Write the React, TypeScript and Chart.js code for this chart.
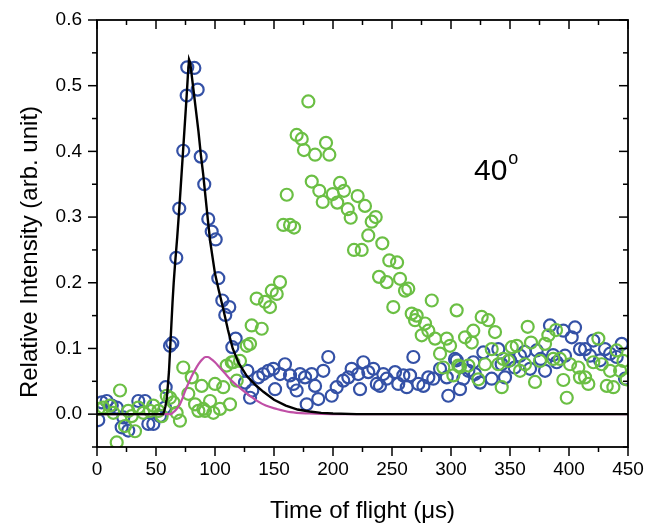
import React, { useEffect, useRef } from 'react';
import { Chart, registerables } from 'chart.js';
Chart.register(...registerables);

// ---- data ----
const blueX = [1.1, 4.0, 8.2, 12.5, 16.7, 20.9, 22.3, 26.5, 35.0, 40.7, 43.5, 47.7, 53.4, 57.6, 58.2, 61.9, 63.8, 67.2, 69.7, 73.1, 76.0, 76.5, 82.5, 85.3, 87.9, 90.9, 94.3, 97.2, 100.6, 102.8, 106.2, 108.7, 112.1, 114.7, 117.5, 125.4, 127.4, 129.7, 131.6, 136.7, 140.9, 145.2, 149.4, 150.9, 155.1, 159.3, 163.6, 166.4, 169.2, 172.1, 176.3, 177.7, 181.9, 184.8, 187.5, 191.8, 196.0, 198.9, 203.1, 208.7, 213.0, 215.8, 221.4, 222.9, 225.7, 229.9, 234.2, 237.1, 239.8, 242.6, 245.5, 252.6, 255.3, 259.6, 262.5, 265.3, 268.1, 272.3, 276.6, 280.8, 285.0, 290.7, 296.4, 297.7, 303.4, 304.8, 307.6, 310.4, 314.7, 318.9, 320.3, 324.6, 327.4, 334.5, 340.1, 342.9, 345.8, 350.0, 354.0, 358.5, 362.5, 367.0, 372.6, 376.0, 379.7, 383.9, 386.5, 389.6, 395.2, 396.6, 402.3, 405.1, 409.3, 413.6, 417.8, 420.6, 426.3, 430.5, 434.8, 440.4, 444.7, 447.5];
const blueY = [-0.009, 0.018, 0.020, 0.013, 0.010, -0.020, -0.005, -0.025, 0.020, 0.020, -0.015, -0.015, -0.003, 0.010, 0.041, 0.104, 0.108, 0.238, 0.313, 0.401, 0.485, 0.528, 0.527, 0.494, 0.392, 0.350, 0.297, 0.278, 0.266, 0.207, 0.173, 0.151, 0.163, 0.102, 0.115, 0.048, 0.066, 0.025, 0.036, 0.056, 0.061, 0.066, 0.069, 0.038, 0.061, 0.076, 0.059, 0.046, 0.036, 0.061, 0.056, 0.015, 0.061, 0.043, 0.023, 0.066, 0.087, 0.028, 0.041, 0.051, 0.056, 0.069, 0.061, 0.038, 0.079, 0.064, 0.069, 0.046, 0.043, 0.061, 0.054, 0.064, 0.046, 0.059, 0.041, 0.059, 0.087, 0.046, 0.043, 0.056, 0.054, 0.069, 0.056, 0.028, 0.084, 0.082, 0.038, 0.054, 0.066, 0.079, 0.061, 0.048, 0.094, 0.054, 0.099, 0.076, 0.056, 0.082, 0.071, 0.089, 0.095, 0.069, 0.097, 0.084, 0.066, 0.135, 0.090, 0.079, 0.127, 0.089, 0.117, 0.132, 0.099, 0.099, 0.089, 0.112, 0.082, 0.099, 0.092, 0.087, 0.107, 0.054];

const greenX = [1.1, 5.3, 11.0, 13.8, 16.7, 19.5, 23.7, 26.5, 29.4, 32.2, 35.0, 39.2, 44.9, 47.7, 52.0, 54.8, 59.1, 61.9, 64.7, 67.5, 70.3, 73.1, 77.4, 80.3, 83.1, 85.9, 88.7, 90.1, 91.5, 95.8, 98.6, 100.0, 104.2, 107.0, 109.9, 112.7, 114.2, 115.5, 118.4, 121.2, 126.9, 129.7, 131.1, 135.3, 139.6, 142.4, 146.6, 148.1, 152.3, 155.1, 157.9, 160.8, 163.6, 167.0, 169.2, 173.5, 175.4, 179.1, 182.0, 184.8, 188.4, 191.3, 194.1, 196.9, 199.8, 203.6, 205.9, 209.3, 212.5, 215.0, 217.8, 220.9, 224.3, 227.1, 229.9, 232.8, 236.2, 239.0, 241.8, 245.5, 247.7, 251.1, 254.3, 256.8, 261.0, 263.8, 266.7, 269.5, 270.9, 275.2, 278.0, 280.8, 283.7, 286.5, 290.7, 293.5, 296.4, 299.2, 302.0, 304.8, 306.2, 307.6, 311.9, 314.7, 317.6, 318.9, 323.2, 326.0, 328.8, 331.6, 334.5, 337.3, 340.1, 343.0, 344.3, 348.6, 351.5, 355.7, 358.5, 362.7, 365.0, 367.8, 371.2, 375.4, 379.7, 382.5, 386.7, 389.0, 392.4, 395.2, 398.1, 400.9, 407.9, 409.3, 413.6, 416.4, 420.6, 424.9, 427.7, 432.0, 434.8, 437.6, 440.4, 443.3, 446.1, 448.9];
const greenY = [0.008, 0.010, 0.013, 0.002, -0.043, 0.036, -0.018, 0.005, -0.003, -0.026, 0.010, 0.002, 0.005, 0.013, 0.005, -0.003, 0.028, 0.025, 0.018, 0.002, -0.010, 0.071, 0.031, 0.056, 0.015, 0.005, 0.043, 0.008, 0.005, 0.020, 0.002, 0.046, 0.008, 0.041, 0.074, 0.015, 0.079, 0.079, 0.051, 0.081, 0.104, 0.107, 0.135, 0.176, 0.130, 0.171, 0.163, 0.188, 0.183, 0.201, 0.288, 0.334, 0.288, 0.284, 0.425, 0.419, 0.402, 0.476, 0.354, 0.395, 0.340, 0.323, 0.413, 0.395, 0.335, 0.322, 0.352, 0.340, 0.312, 0.299, 0.250, 0.332, 0.250, 0.317, 0.272, 0.293, 0.300, 0.209, 0.260, 0.201, 0.234, 0.163, 0.231, 0.206, 0.188, 0.191, 0.153, 0.143, 0.150, 0.120, 0.138, 0.127, 0.173, 0.115, 0.092, 0.071, 0.115, 0.104, 0.059, 0.158, 0.074, 0.072, 0.117, 0.074, 0.109, 0.127, 0.053, 0.148, 0.076, 0.143, 0.099, 0.125, 0.076, 0.041, 0.084, 0.081, 0.102, 0.104, 0.066, 0.076, 0.133, 0.109, 0.049, 0.081, 0.107, 0.120, 0.084, 0.128, 0.084, 0.052, 0.025, 0.076, 0.071, 0.056, 0.056, 0.046, 0.079, 0.115, 0.076, 0.043, 0.066, 0.041, 0.097, 0.066, 0.081, 0.053];

const fitX = [0, 56, 57, 58, 59, 60, 61, 62, 63, 64, 65, 66, 68, 70, 72, 74, 76, 77, 78, 79, 80, 82, 84, 86, 88, 90, 92, 94, 96, 98, 100, 103, 107, 111, 115, 120, 127, 134, 141, 150, 160, 170, 180, 190, 200, 220, 450];
const fitY = [0, 0, 0.005, 0.012, 0.022, 0.042, 0.065, 0.10, 0.135, 0.17, 0.20, 0.225, 0.27, 0.32, 0.375, 0.43, 0.485, 0.515, 0.54, 0.535, 0.52, 0.49, 0.46, 0.43, 0.395, 0.365, 0.33, 0.295, 0.262, 0.238, 0.214, 0.19, 0.16, 0.128, 0.10, 0.078, 0.058, 0.045, 0.034, 0.022, 0.013, 0.007, 0.004, 0.002, 0.001, 0, 0];

const magX = [0, 63, 64, 66, 68, 70, 72, 74, 76, 78, 80, 83, 86, 89, 92, 94, 96, 100, 104, 108, 114, 121, 128, 135, 143, 152, 164, 180, 200, 450];
const magY = [0, 0, 0.002, 0.005, 0.009, 0.014, 0.022, 0.032, 0.041, 0.049, 0.057, 0.067, 0.076, 0.083, 0.087, 0.087, 0.085, 0.079, 0.071, 0.063, 0.051, 0.040, 0.030, 0.021, 0.013, 0.008, 0.003, 0.001, 0, 0];

const xMajorTicks = [0, 50, 100, 150, 200, 250, 300, 350, 400, 450];
const xMinorTicks = [25, 75, 125, 175, 225, 275, 325, 375, 425];
const yMajorTicks = [0, 0.1, 0.2, 0.3, 0.4, 0.5, 0.6];
const yMinorTicks = [-0.05, 0.05, 0.15, 0.25, 0.35, 0.45, 0.55];

const xTitle = 'Time of flight (\u03bcs)';
const yTitle = 'Relative Intensity (arb. unit)';
const angleLabel = '40';
const angleSup = 'o';

const FONT = '"Liberation Sans", Arial, Helvetica, sans-serif';

const pts = (xs: number[], ys: number[]) => xs.map((x, i) => ({ x, y: ys[i] }));

const framePlugin = {
  id: 'frameTicks',
  afterDatasetsDraw(chart: any) {
    const { ctx, chartArea: a, scales } = chart;
    const xs = scales.x;
    const ys = scales.y;
    ctx.save();
    ctx.strokeStyle = '#000';
    ctx.lineWidth = 1.8;
    ctx.strokeRect(a.left, a.top, a.right - a.left, a.bottom - a.top);
    ctx.lineWidth = 1.5;
    const seg = (x1: number, y1: number, x2: number, y2: number) => {
      ctx.beginPath();
      ctx.moveTo(x1, y1);
      ctx.lineTo(x2, y2);
      ctx.stroke();
    };
    yMajorTicks.forEach((v) => {
      const p = ys.getPixelForValue(v);
      seg(a.left - 9, p, a.left, p);
      seg(a.right - 9, p, a.right, p);
    });
    yMinorTicks.forEach((v) => {
      const p = ys.getPixelForValue(v);
      seg(a.left - 5, p, a.left, p);
      seg(a.right - 5, p, a.right, p);
    });
    xMajorTicks.forEach((v) => {
      const p = xs.getPixelForValue(v);
      seg(p, a.bottom, p, a.bottom + 9);
      seg(p, a.top, p, a.top + 9);
    });
    xMinorTicks.forEach((v) => {
      const p = xs.getPixelForValue(v);
      seg(p, a.bottom, p, a.bottom + 5);
      seg(p, a.top, p, a.top + 5);
    });
    ctx.restore();
  },
  afterDraw(chart: any) {
    const { ctx, chartArea: a } = chart;
    ctx.save();
    ctx.fillStyle = '#000';
    ctx.font = `24px ${FONT}`;
    ctx.textAlign = 'center';
    ctx.textBaseline = 'middle';
    ctx.fillText(xTitle, (a.left + a.right) / 2, 511);
    ctx.translate(30, 252);
    ctx.rotate(-Math.PI / 2);
    ctx.fillText(yTitle, 0, 0);
    ctx.restore();
    ctx.save();
    ctx.fillStyle = '#000';
    ctx.textAlign = 'left';
    ctx.textBaseline = 'alphabetic';
    ctx.font = `30px ${FONT}`;
    ctx.fillText(angleLabel, 474, 180);
    const w = ctx.measureText(angleLabel).width;
    ctx.font = `18px ${FONT}`;
    ctx.fillText(angleSup, 474 + w + 1, 164);
    ctx.restore();
  },
};

export default function App() {
  const ref = useRef<HTMLCanvasElement>(null);
  useEffect(() => {
    document.body.style.margin = '0';
    const canvas = ref.current!;
    const chart = new Chart(canvas, {
      type: 'scatter',
      data: {
        datasets: [
          {
            label: 'fit',
            data: pts(fitX, fitY),
            showLine: true,
            borderColor: '#000000',
            borderWidth: 2.4,
            pointRadius: 0,
            order: 0,
            clip: 0,
          },
          {
            label: 'fit2',
            data: pts(magX, magY),
            showLine: true,
            borderColor: '#c04fa6',
            borderWidth: 2.2,
            pointRadius: 0,
            cubicInterpolationMode: 'monotone',
            order: 1,
            clip: 0,
          },
          {
            label: 'green',
            data: pts(greenX, greenY),
            showLine: false,
            pointStyle: 'circle',
            pointRadius: 6,
            pointBorderWidth: 2.2,
            pointBorderColor: '#6bbf44',
            pointBackgroundColor: 'rgba(0,0,0,0)',
            order: 2,
            clip: 0,
          },
          {
            label: 'blue',
            data: pts(blueX, blueY),
            showLine: false,
            pointStyle: 'circle',
            pointRadius: 6,
            pointBorderWidth: 2.2,
            pointBorderColor: '#3451a6',
            pointBackgroundColor: 'rgba(0,0,0,0)',
            order: 3,
            clip: 0,
          },
        ] as any,
      },
      options: {
        responsive: false,
        animation: false,
        events: [],
        layout: { padding: { top: 20, right: 20, left: 0, bottom: 0 } },
        plugins: { legend: { display: false }, tooltip: { enabled: false } },
        scales: {
          x: {
            type: 'linear',
            min: 0,
            max: 450,
            grid: { display: false, drawTicks: false },
            border: { display: false },
            afterBuildTicks: (s: any) => {
              s.ticks = xMajorTicks.map((v) => ({ value: v }));
            },
            afterFit: (s: any) => {
              s.height = 78;
              s.paddingLeft = 0;
              s.paddingRight = 0;
            },
            ticks: {
              color: '#000',
              padding: 11,
              maxRotation: 0,
              font: { family: FONT, size: 19 },
              callback: (v: any) => String(v),
            },
          },
          y: {
            type: 'linear',
            min: -0.05,
            max: 0.6,
            grid: { display: false, drawTicks: false },
            border: { display: false },
            afterBuildTicks: (s: any) => {
              s.ticks = yMajorTicks.map((v) => ({ value: v }));
            },
            afterFit: (s: any) => {
              s.width = 97;
              s.paddingTop = 0;
              s.paddingBottom = 0;
            },
            ticks: {
              color: '#000',
              padding: 15,
              font: { family: FONT, size: 19 },
              callback: (v: any) => Number(v).toFixed(1),
            },
          },
        },
      },
      plugins: [framePlugin],
    });
    return () => chart.destroy();
  }, []);
  return (
    <div style={{ width: 648, height: 525 }}>
      <canvas ref={ref} width={648} height={525} style={{ display: 'block' }} />
    </div>
  );
}
